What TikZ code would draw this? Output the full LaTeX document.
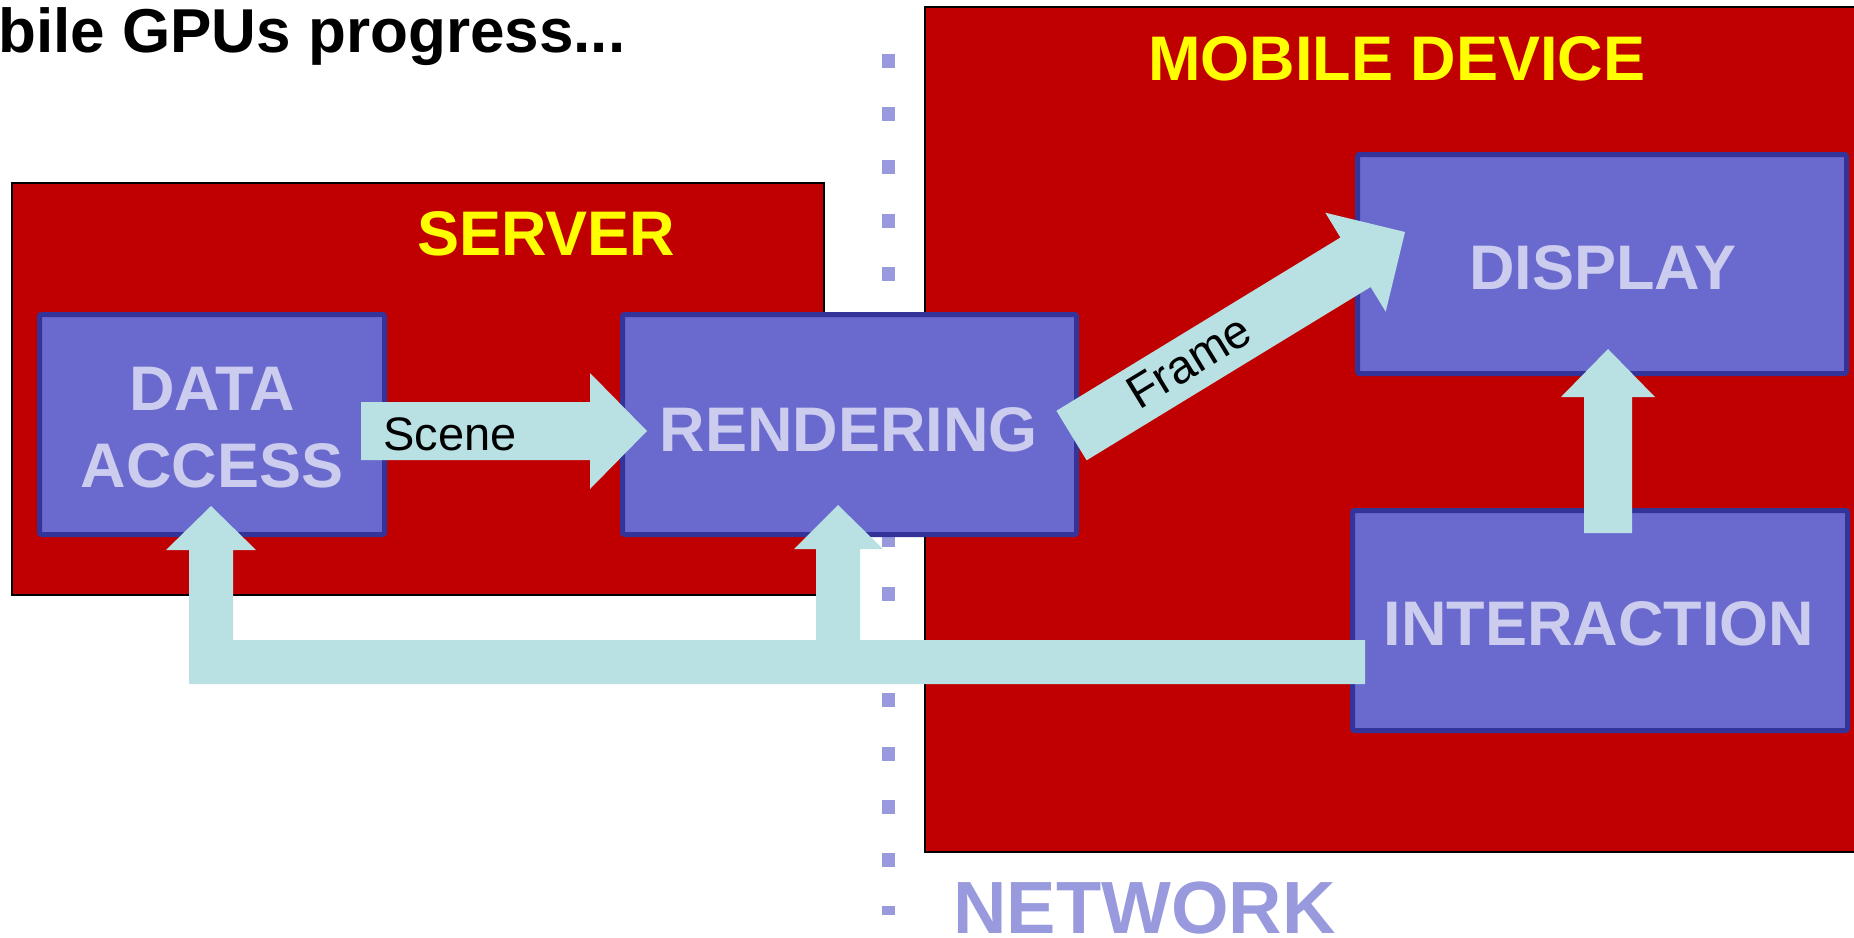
\documentclass[tikz,border=0pt]{standalone}
\usepackage{fontspec}
\setmainfont{Liberation Sans}
\definecolor{cRed}{RGB}{192,0,0}
\definecolor{cBoxFill}{RGB}{106,106,206}
\definecolor{cBoxLine}{RGB}{51,51,153}
\definecolor{cBoxText}{RGB}{204,204,238}
\definecolor{cArrow}{RGB}{185,224,227}
\definecolor{cNet}{RGB}{153,153,221}
\definecolor{cYellow}{RGB}{255,255,0}
\begin{document}
\begin{tikzpicture}[x=1pt,y=-1pt,
  container/.style={draw=black, line width=2pt, fill=cRed, inner sep=0pt, outer sep=0pt, anchor=north west},
  blockbox/.style={draw=cBoxLine, fill=cBoxFill, line width=5pt, rounded corners=2pt, inner sep=0pt, outer sep=0pt},
  boxlabel/.style={text=cBoxText, font=\bfseries\fontsize{63}{75}\selectfont, inner sep=0pt, anchor=base},
  zonelabel/.style={text=cYellow, font=\bfseries\fontsize{63}{75}\selectfont, inner sep=0pt, anchor=base},
  blockarrow/.style={fill=cArrow, draw=none},
  arrowlabel/.style={text=black, font=\fontsize{47}{56}\selectfont, inner sep=0pt, anchor=base west}]
\clip (0,0) rectangle (1854,937);
% title
\node[font=\bfseries\fontsize{62}{70}\selectfont, anchor=base west, inner sep=0pt] (title) at (-2,52) {bile GPUs progress...};
% network line
\draw[cNet, line width=13pt, dash pattern=on 14pt off 39.3pt] (888,53.6) coordinate (nettop) -- (888,915) coordinate (netbot);
\node[text=cNet, font=\bfseries\fontsize{74}{85}\selectfont, anchor=base west, inner sep=0pt] (network) at (953,933) {NETWORK};
% containers
\node[container, minimum width=812pt, minimum height=412pt] (server) at (11.8,183) {};
\node[container, minimum width=960pt, minimum height=845pt] (mobile) at (925,7) {};
\node[zonelabel] (serverlbl) at (546.5,255.6) {SERVER};
\node[zonelabel] (mobilelbl) at (1397,80) {MOBILE DEVICE};
% boxes
\node[blockbox, minimum width=345pt, minimum height=220pt] (da) at (212,424.5) {};
\node[blockbox, minimum width=454pt, minimum height=220pt] (rend) at (849.5,424.5) {};
\node[blockbox, minimum width=489pt, minimum height=219pt] (disp) at (1602,264) {};
\node[blockbox, minimum width=495pt, minimum height=220pt] (inter) at (1600,620.5) {};
\node[boxlabel] (da1) at (212,410) {DATA};
\node[boxlabel] (da2) at (212,487) {ACCESS};
\node[boxlabel] (rendlbl) at (849,451.5) {RENDERING};
\node[boxlabel] (displbl) at (1603,289.5) {DISPLAY};
\node[boxlabel] (interlbl) at (1599,645) {INTERACTION};
% Scene arrow: data access -> rendering
\fill[blockarrow] (361,402) coordinate (scenetail) -- (590,402) -- (590,373) -- (647,431) coordinate (scenetip) -- (590,489) -- (590,460) -- (361,460) -- cycle;
\node[arrowlabel] (scenelbl) at (383,450) {Scene};
% Frame arrow: rendering -> display
\fill[blockarrow] (1056.4,410.8) coordinate (frametail) -- (1340.4,237.5) -- (1325.3,212.7) -- (1405,232) coordinate (frametip) -- (1385.7,311.7) -- (1370.6,287.0) -- (1086.6,460.3) -- cycle;
\node[arrowlabel, rotate=31.4] (framelbl) at (1139,410.5) {Frame};
% interaction -> display
\fill[blockarrow] (1584,533) coordinate (uptail) -- (1584,397) -- (1561,397) -- (1608,349) coordinate (uptip) -- (1655,397) -- (1632,397) -- (1632,533) -- cycle;
% feedback: interaction -> data access and rendering
\fill[blockarrow] (1365,640) coordinate (fbstart) -- (1365,684) -- (189,684) -- (189,550) -- (166,550) -- (211,506) coordinate (fbtipda) -- (256,550) -- (233,550) -- (233,640) -- (816,640) -- (816,549) -- (794,549) -- (838,505) coordinate (fbtiprend) -- (883,549) -- (860,549) -- (860,640) -- cycle;
\end{tikzpicture}
\end{document}
